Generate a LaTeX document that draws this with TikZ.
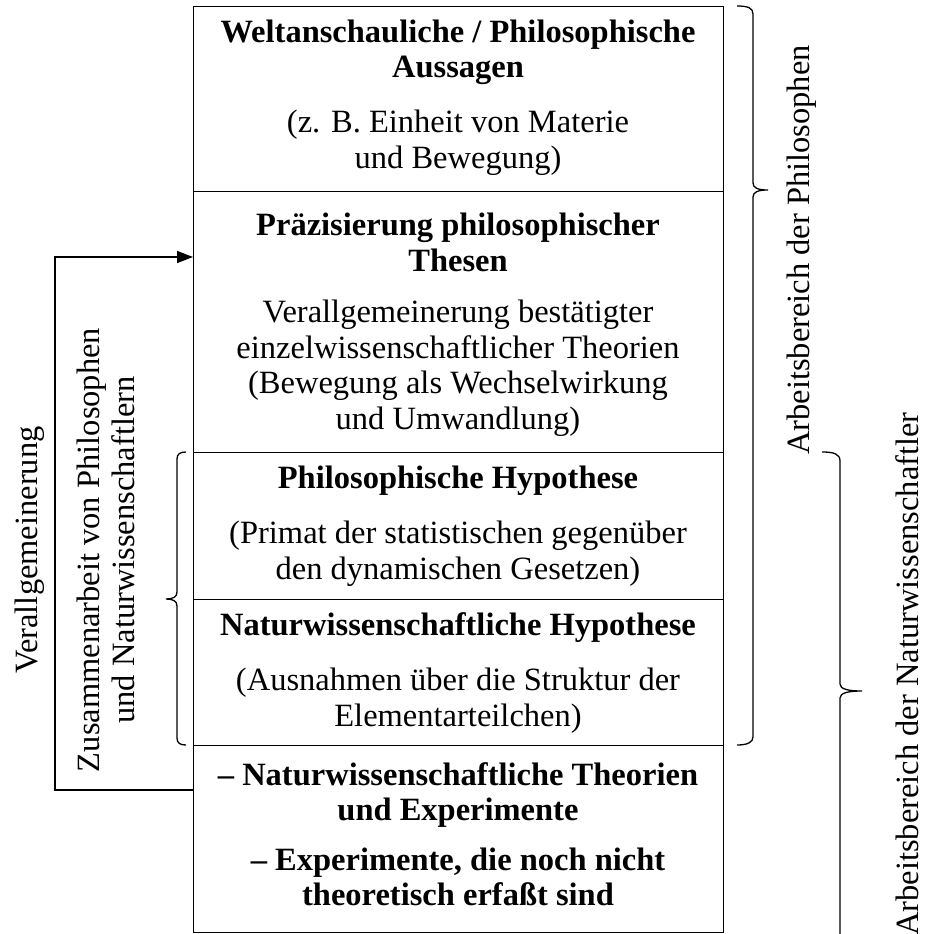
\documentclass[tikz,border=0pt]{standalone}
\usepackage{fontspec}
\setmainfont{Liberation Serif}
\usetikzlibrary{arrows.meta}
\begin{document}
\begin{tikzpicture}[x=1pt,y=-1pt,line width=1.3pt,
  sect/.style={draw,minimum width=530pt,anchor=north west,inner sep=0pt},
  txt/.style={align=center,font=\fontsize{32.5}{35.5}\selectfont,inner sep=0pt},
  hd/.style={align=center,font=\fontsize{32.5}{35.5}\selectfont\bfseries,inner sep=0pt},
  side/.style={align=center,font=\fontsize{32.5}{35.5}\selectfont,rotate=90,inner sep=0pt},
  flow/.style={-{Triangle[length=16pt,width=12pt]}}]
\useasboundingbox (0,0) rectangle (924,934);

% stacked sections
\node[sect,minimum height=185pt] (s1) at (193,6) {};
\node[sect,minimum height=261pt] (s2) at (193,191) {};
\node[sect,minimum height=147pt] (s3) at (193,452) {};
\node[sect,minimum height=146pt] (s4) at (193,599) {};
\node[sect,minimum height=187pt] (s5) at (193,745) {};

% section texts
\node[hd]  (h1) at (458,52.5) {Weltanschauliche / Philosophische\\Aussagen};
\node[txt] (b1) at (458,142.5) {(z. B. Einheit von Materie\\und Bewegung)};
\node[hd]  (h2) at (458,242.5) {Präzisierung philosophischer\\Thesen};
\node[txt] (b2) at (458,368) {Verallgemeinerung bestätigter\\einzelwissenschaftlicher Theorien\\(Bewegung als Wechselwirkung\\und Umwandlung)};
\node[hd]  (h3) at (458,481) {Philosophische Hypothese};
\node[txt] (b3) at (458,553.5) {(Primat der statistischen gegenüber\\den dynamischen Gesetzen)};
\node[hd]  (h4) at (458,628) {Naturwissenschaftliche Hypothese};
\node[txt] (b4) at (458,700.5) {(Ausnahmen über die Struktur der\\Elementarteilchen)};
\node[hd]  (h5) at (458,795) {– Naturwissenschaftliche Theorien\\und Experimente};
\node[hd]  (b5) at (458,877) {– Experimente, die noch nicht\\theoretisch erfaßt sind};

% feedback arrow from the bottom section back to the second one
\coordinate (outpt) at (193,790);
\coordinate (inpt) at (193,257);
\draw[flow] (outpt) -- ++(-138,0) |- (inpt);

% side labels
\node[side] (lv) at (30,550) {Verallgemeinerung};
\node[side] (lz) at (106,550) {Zusammenarbeit von Philosophen\\und Naturwissenschaftlern};
\node[side] (lp) at (802,250) {Arbeitsbereich der Philosophen};
\node[side] (ln) at (907,674) {Arbeitsbereich der Naturwissenschaftler};

% left brace over the two hypotheses
\draw (186,452) .. controls (180,452) and (177,454) .. (177,459)
  -- (177,592) .. controls (177,597) and (173,599) .. (166,599)
  .. controls (173,599) and (177,601) .. (177,606)
  -- (177,738) .. controls (177,743) and (180,745) .. (186,745);

% right brace: philosophers
\draw (737,6) .. controls (748,6) and (753,8) .. (753,14)
  -- (753,183) .. controls (753,188) and (758,190) .. (768,190)
  .. controls (758,190) and (753,192) .. (753,197)
  -- (753,737) .. controls (753,742) and (748,745) .. (737,745);

% right brace: natural scientists
\draw (822,452) .. controls (834,452) and (840,454) .. (840,461)
  -- (840,684) .. controls (840,689) and (848,691) .. (862,691)
  .. controls (848,691) and (840,693) .. (840,698)
  -- (840,934);
\end{tikzpicture}
\end{document}
